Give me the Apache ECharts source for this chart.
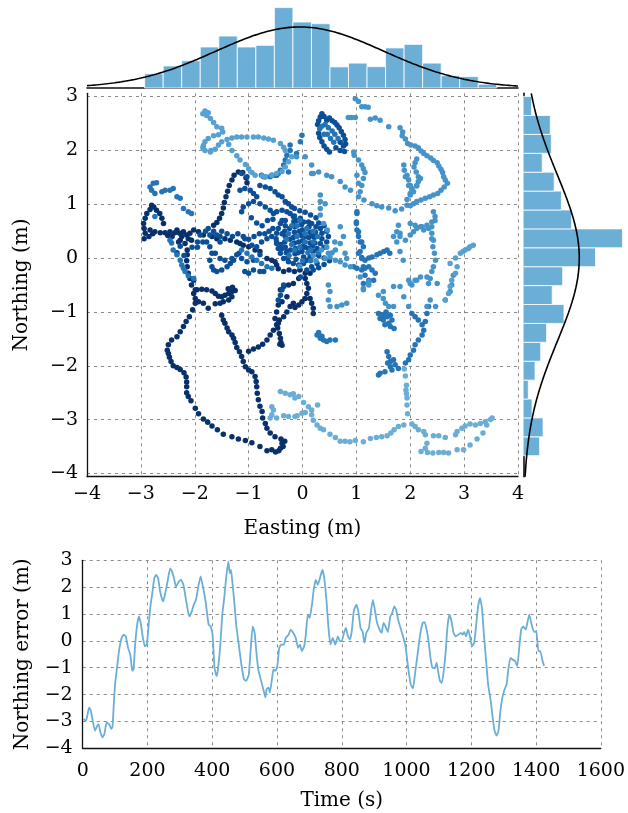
<!DOCTYPE html>
<html><head><meta charset="utf-8">
<script src="https://cdn.jsdelivr.net/npm/echarts@6/dist/echarts.min.js"></script>
<style>html,body{margin:0;padding:0;background:#fff}#c{width:628px;height:813px}</style>
</head><body><div id="c"></div>
<script>
// ---------------- data ----------------
const navyPts = [
[-0.44,-3.58],[-0.50,-3.60],[-0.57,-3.56],[-0.66,-3.58],[-0.79,-3.50],[-0.94,-3.43],[-1.06,-3.39],[-1.19,-3.36],[-1.31,-3.32],[-1.47,-3.27],[-1.58,-3.19],[-1.68,-3.12],[-1.76,-3.05],[-1.84,-2.99],[-1.93,-2.89],[-1.99,-2.79],[-2.07,-2.65],[-2.12,-2.57],[-2.15,-2.50],[-2.15,-2.39],[-2.15,-2.30],[-2.16,-2.21],[-2.20,-2.13],[-2.27,-2.07],[-2.33,-2.03],[-2.40,-2.00],[-2.44,-1.92],[-2.47,-1.84],[-2.49,-1.77],[-2.51,-1.71],[-2.49,-1.61],[-2.43,-1.52],[-2.33,-1.46],[-2.27,-1.37],[-2.21,-1.27],[-2.16,-1.18],[-2.10,-1.09],[-2.04,-0.96],[-1.99,-0.84],
[-0.33,-3.40],[-0.38,-3.44],[-0.36,-3.50],[-0.41,-3.53],[-0.40,-3.36],[-0.51,-3.32],[-0.60,-3.25],[-0.66,-3.16],[-0.69,-3.07],[-0.74,-2.97],[-0.75,-2.85],[-0.79,-2.75],[-0.82,-2.63],[-0.84,-2.51],[-0.85,-2.39],[-0.86,-2.29],[-0.88,-2.20],[-0.94,-2.11],[-1.00,-2.08],[-1.06,-2.02],[-1.10,-1.92],[-1.13,-1.83],[-1.17,-1.74],[-1.22,-1.66],[-1.25,-1.57],[-1.28,-1.49],[-1.31,-1.43],[-1.37,-1.37],[-1.40,-1.30],[-1.44,-1.21],[-1.47,-1.15],[-1.50,-1.06],
[-1.00,-1.73],[-0.91,-1.69],[-0.82,-1.65],[-0.74,-1.60],[-0.66,-1.52],[-0.60,-1.43],[-0.54,-1.34],[-0.48,-1.24],[-0.43,-1.15],[-0.35,-1.09],[-0.29,-1.00],[-0.23,-0.90],[-0.17,-0.84],
[-0.45,-1.21],[-0.46,-1.30],[-0.43,-1.40],[-0.41,-1.49],[-0.40,-1.57],[-0.38,-1.62],[-0.42,-1.60],
[-0.41,-0.59],[-0.35,-0.53],[-0.26,-0.50],[-0.17,-0.47],[-0.07,-0.38],[-0.29,-0.72],[-0.38,-0.81],[-0.45,-0.87],[-0.48,-1.00],[-0.51,-1.12],
[-2.02,-0.66],[-1.96,-0.59],[-1.87,-0.58],[-1.78,-0.59],[-1.68,-0.61],[-1.62,-0.66],[-1.56,-0.71],[-1.50,-0.72],[-1.44,-0.69],[-1.37,-0.66],[-1.31,-0.62],[-1.31,-0.72],[-1.37,-0.78],[-1.47,-0.81],[-1.53,-0.84],[-1.62,-0.85],[-1.75,-0.93],[-1.84,-0.84],[-1.93,-0.81],[-1.99,-0.75],[-1.30,-0.54],[-1.38,-0.57],[-1.25,-0.60],
[-2.06,-0.50],[-2.09,-0.38],[-2.12,-0.28],[-2.14,-0.16],[-2.15,-0.05],[-2.14,0.06],[-2.14,0.15],[-2.18,0.27],[-2.27,0.33],[-2.24,0.40],[-2.28,0.46],[-2.33,0.52],[-2.21,0.49],[-2.15,0.43],[-2.12,0.36],[-2.09,0.46],[-2.06,0.33],[-2.02,-0.41],[-1.99,-0.59],
[-2.94,0.36],[-2.92,0.46],[-2.94,0.55],[-2.95,0.64],[-2.92,0.74],[-2.89,0.83],[-2.83,0.90],[-2.80,0.98],[-2.76,0.95],[-2.71,0.89],[-2.65,0.83],[-2.61,0.74],[-2.58,0.64],
[-2.83,0.52],[-2.74,0.49],[-2.64,0.47],[-2.55,0.47],[-2.46,0.49],[-2.37,0.47],[-2.85,0.40],[-2.78,0.45],[-2.50,0.42],[-2.42,0.40],[-2.30,0.30],
[-1.65,0.61],[-1.59,0.66],[-1.54,0.74],[-1.50,0.83],[-1.47,0.93],[-1.45,1.03],[-1.42,1.14],[-1.39,1.24],[-1.36,1.35],[-1.31,1.45],[-1.27,1.54],[-1.19,1.60],[-1.11,1.59],[-1.05,1.49],[-1.03,1.40],
[-2.02,0.52],[-1.93,0.49],[-1.84,0.43],[-1.68,0.40],[-1.59,0.36],[-1.44,0.36],[-1.34,0.33],[-1.22,0.30],[-1.16,0.27],[-1.10,0.24],[-1.00,0.21],[-0.88,0.15],[-0.79,0.12],[-0.66,-0.01],[-0.57,-0.04],[-0.51,-0.07],[-0.48,-0.13],
[0.08,-0.47],[0.11,-0.56],[0.08,-0.66],[0.05,-0.75],[-0.01,-0.81],[-0.07,-0.87],[-0.14,-0.92],[0.14,-0.75],[0.17,-0.84],[0.20,-0.93],[0.20,-1.03],[0.05,-0.38],[0.14,-0.28],
[-0.45,-0.20],[-0.35,-0.25],[-0.25,-0.22],[-0.15,-0.25],[-0.05,-0.22],[0.05,-0.28]
];
const darkPts = [
[-2.33,0.10],[-2.27,0.22],[-2.20,0.05],[-2.05,0.20],[-1.95,0.30],[-1.90,0.43],[-1.78,0.30],[-1.72,0.43],[-1.62,0.09],[-1.53,-0.01],[-1.53,0.30],[-1.44,-0.04],[-1.31,-0.01],[-1.22,0.06],[-1.13,-0.01],[-1.03,-0.07],[-0.91,-0.04],[-0.79,0.06],[-1.07,0.36],[-0.94,0.24],[-0.85,0.21],[-0.76,0.30],[-0.66,0.36],[-0.57,0.40],[-0.48,0.30],[-0.38,0.18],[-0.29,0.12],
[-1.59,0.43],[-1.53,0.40],[-1.72,0.21],[-1.68,0.09],[-1.72,-0.04],[-1.68,-0.16],[-1.65,-0.22],[-1.59,-0.25],[-1.50,-0.22],[-1.40,-0.16],[-1.34,-0.10],[-1.28,-0.04],[-1.18,0.09],
[-1.95,0.20],[-1.85,0.30],[-1.80,0.50],[-1.75,0.55],[-1.65,0.50],[-1.50,0.50],[-1.40,0.45],[-1.30,0.40],[-1.20,0.45],[-1.10,0.40],[-1.00,0.35],[-0.90,0.40],[-0.80,0.45],[-0.70,0.45],[-0.62,0.50],[-0.55,0.55],
[-0.95,0.75],[-0.85,0.65],[-0.75,0.60],[-0.65,0.70],[-0.55,0.72],
[-0.32,0.70],[-0.32,0.60],[-0.33,0.50],[-0.32,0.40],[-0.33,0.30],[-0.32,0.20],[-0.30,0.10],[-0.28,0.00],
[-0.15,0.78],[-0.16,0.68],[-0.14,0.58],[-0.15,0.48],[-0.17,0.38],[-0.15,0.28],[-0.13,0.18],[-0.14,0.08],[-0.12,-0.02],
[-0.02,0.62],[0.00,0.52],[-0.02,0.42],[0.00,0.32],[0.01,0.22],[-0.01,0.12],[0.02,0.02],
[0.12,0.58],[0.14,0.48],[0.12,0.38],[0.14,0.28],[0.11,0.18],[0.24,0.48],[0.22,0.38],[0.23,0.28],
[-0.17,0.77],[-0.11,0.70],[-0.04,0.74],[0.02,0.67],[0.11,0.67],[0.17,0.64],[0.25,0.58],[0.33,0.55],[0.36,0.46],[0.36,0.36],[0.33,0.27],[0.27,0.18],[0.20,0.12],[0.14,0.02],[0.08,-0.04],[0.02,-0.10],[-0.07,-0.13],[-0.17,-0.10],[-0.26,-0.07],[-0.35,-0.01],[-0.41,0.09],[-0.45,0.18],[-0.48,0.27],[-0.49,0.36],[-0.48,0.46],[-0.45,0.55],[-0.41,0.64],[-0.38,0.70],
[-0.23,0.83],[-0.29,0.86],[-0.38,0.89],[-0.48,0.86],[-0.54,0.83],[-0.60,0.89],[-0.69,0.95],[-0.79,1.01],
[-0.24,0.55],[-0.23,0.35],[-0.22,0.15],[-0.06,0.50],[-0.07,0.30],[-0.08,0.10],[0.06,0.40],[0.05,0.20],[0.18,0.42],[0.18,0.22],[-0.38,0.45],[-0.40,0.25],
[-0.15,0.92],[-0.05,0.88],[0.05,0.85],[0.15,0.80],[0.25,0.75],[0.30,0.65],[0.40,0.60],[0.45,0.50],[0.48,0.40],[0.45,0.30],[0.40,0.20],[0.30,0.05],[0.40,0.00],[0.50,-0.05],
[0.20,-0.22],[0.30,-0.18],[0.40,-0.12],
[-1.13,1.57],[-1.03,1.51],[-0.76,1.54],[-0.69,1.51],[-0.57,1.54],[-0.48,1.54],[-0.79,1.35],[-0.69,1.32],[-0.60,1.29],[-0.51,1.23],[-0.45,1.17],[-0.38,1.14],[-0.32,1.05],[-0.26,1.01],[-0.20,0.95],[-1.16,1.26],[-1.07,1.29],[-0.97,1.26],[-0.91,1.20],[-0.85,1.14],[-0.91,1.05],[-1.00,1.01],[-1.10,0.95],[-1.13,0.86],
[0.17,-0.16],[0.08,-0.22],[0.27,-0.10],[-0.35,-0.50],[-0.38,-0.59],[-0.41,-0.69],[-0.45,-0.78],[-0.79,-0.25],[-0.91,-0.22],[-1.00,-0.28],[-1.07,-0.25],[-0.72,-0.25],[-0.04,-0.35],
[0.33,2.62],[0.36,2.68],[0.40,2.63],[0.45,2.56],[0.50,2.60],[0.55,2.55],[0.60,2.52],[0.64,2.47],[0.68,2.42],[0.72,2.35],[0.76,2.28],[0.79,2.20],[0.80,2.12],[0.76,2.08],[0.70,2.15],[0.30,2.55],[0.28,2.48],[0.30,2.32],[0.32,2.24],[0.36,2.16],[0.40,2.08],[0.45,2.02],[0.50,1.97],[0.62,2.05],[0.70,2.00],[0.78,1.98]
];
const midPts = [
[-2.77,1.39],[-2.71,1.40],[-2.83,1.32],[-2.80,1.26],[-2.74,1.20],[-2.61,1.23],[-2.55,1.26],[-2.46,1.26],[-2.40,1.29],[-2.33,1.14],[-2.27,1.11],[-2.21,0.92],[-2.12,0.86],[-2.06,0.83],
[-2.74,0.77],[-2.46,0.33],[-2.43,0.28],[-2.40,0.15],[-2.33,0.06],[-2.27,-0.04],[-2.24,-0.13],[-2.21,-0.19],[-2.18,-0.25],[-2.12,-0.33],[-2.02,-0.38],
[-1.13,0.15],[-1.03,0.09],[-0.94,0.02],[-0.85,-0.04],[-0.76,-0.10],[-0.66,-0.16],[-0.57,-0.19],
[-0.26,0.45],[-0.10,0.60],[0.05,0.45],[0.20,0.30],[-0.05,0.20],[-0.20,0.25],[0.10,0.10],
[-0.20,0.60],[-0.05,0.70],[0.08,0.55],[0.20,0.50],[-0.30,0.35],[-0.10,0.40],[0.05,0.30],[0.15,0.15],[-0.15,0.15],[-0.25,0.05],[0.00,-0.05],[0.15,-0.05],[0.28,0.40],[0.30,0.10],
[-0.01,2.28],[-0.04,2.16],[-0.11,1.94],[-0.23,2.00],[-0.29,1.91],[-0.32,1.82],[-0.35,1.73],[-0.41,1.63],[-0.45,1.57],[-0.51,1.54],[-0.60,1.51],[-0.72,1.51],[-0.23,2.10],[-0.26,1.60],
[0.60,2.30],[0.55,2.36],[0.48,2.42],[0.42,2.48],[0.36,2.45],[0.32,2.40],[0.40,2.30],[0.46,2.30],[0.52,2.22],[0.58,2.15],[0.66,2.22],
[1.04,0.09],[1.10,0.01],[1.16,-0.04],[1.23,0.00],[1.29,0.02],[1.38,0.06],[1.44,0.09],[1.51,0.12],[1.57,0.15],[1.62,0.09],[1.23,-0.16],[1.16,-0.19],[1.10,-0.22],[1.01,-0.19],[0.95,-0.16],[1.29,-0.22],[1.35,-0.28],[1.32,-0.41],[1.23,-0.44],[1.13,-0.47],
[1.01,0.86],[1.00,0.67],[1.04,0.49],[1.07,0.30],[1.01,0.83],[1.00,0.64],[1.01,0.52],[1.04,0.40],[1.10,0.30],[1.13,0.21],[1.07,0.12],[1.10,-0.01],[1.13,-0.16],[1.16,-0.32],[1.23,-0.41],
[1.41,-1.03],[1.50,-1.06],[1.57,-1.09],[1.63,-1.06],[1.66,-1.15],[1.60,-1.21],[1.50,-1.15],[1.44,-1.12],[1.53,-1.24],[1.63,-1.27],[1.70,-1.31],[1.45,-1.05],[1.55,-1.00],
[1.57,-1.74],[1.60,-1.83],[1.63,-1.92],[1.69,-1.89],[1.63,-2.02],[1.66,-2.08],[1.53,-2.11],[1.44,-2.14],[1.41,-2.17],[1.78,-2.05],[1.58,-1.95],[1.72,-1.98],
[0.27,-1.43],[0.33,-1.49],[0.39,-1.52],[0.45,-1.55],[0.51,-1.52],[0.61,-1.52],[0.30,-1.38],[0.36,-1.45],
[1.91,-1.95],[1.97,-1.89],[2.00,-1.80],[2.06,-1.71],[2.09,-1.61],[2.15,-1.52],[2.22,-1.43],[2.25,-1.34],[2.22,-1.24],[2.15,-1.15],[2.09,-1.09],[2.03,-1.03],[2.28,-1.18],[2.31,-1.03],[2.34,-0.90]
];
const lightPts = [
[0.98,2.96],[1.04,2.91],[1.10,2.81],[1.16,2.81],[1.22,2.80],[0.85,2.61],[0.91,2.61],[0.98,2.61],[1.26,2.58],[1.35,2.60],[1.44,2.56],[1.60,2.44],
[1.81,2.42],[1.86,2.34],[1.85,2.27],[1.91,2.21],[1.95,2.13],[2.01,2.10],[2.09,2.08],[2.15,2.05],[2.20,1.99],[2.25,1.94],[2.31,1.90],[2.38,1.86],[2.43,1.81],[2.50,1.77],[2.53,1.71],[2.57,1.65],[2.60,1.59],[2.62,1.51],[2.65,1.45],[2.69,1.39],[2.63,1.32],[2.57,1.26],[2.51,1.20],[2.43,1.17],[2.36,1.14],[2.28,1.11],[2.20,1.08],[2.12,1.05],[2.06,1.01],[2.00,0.97],
[1.88,1.73],[1.89,1.63],[1.94,1.54],[1.97,1.45],[2.00,1.35],[2.03,1.28],[2.07,1.69],[2.09,1.77],[2.12,1.84],[2.11,1.60],[2.15,1.51],[2.15,1.42],[2.12,1.34],[2.06,1.23],[2.00,1.17],[1.94,1.09],
[1.14,1.08],[1.29,1.01],[1.38,0.97],[1.47,0.95],[1.60,0.93],[1.72,0.88],[1.84,0.91],[1.94,0.98],
[0.95,1.97],[0.96,1.91],[1.04,1.82],[1.10,1.73],[1.13,1.66],[1.16,1.59],[1.13,1.48],[1.10,1.35],[1.07,1.23],[1.04,1.14],[1.01,1.54],[1.04,1.39],
[0.17,1.57],[0.30,1.60],[0.45,1.54],[0.54,1.51],[0.70,1.42],[0.79,1.32],[0.89,1.26],[0.33,1.17],[0.33,1.05],[0.33,0.92],[0.42,1.01],[0.33,0.80],[0.39,0.64],[0.46,0.52],[0.70,0.58],[0.76,0.40],[0.70,0.27],[0.61,0.15],[0.48,0.09],[0.79,0.09],[0.82,-0.01],
[-0.11,1.88],[0.05,1.88],[0.17,1.73],[0.20,1.57],
[0.20,0.05],[0.35,0.15],[0.25,-0.05],[0.45,0.20],[-0.05,-0.15],[0.55,0.10],[0.60,0.30],
[1.69,0.40],[1.81,0.46],[1.75,0.30],[1.81,0.12],[1.87,-0.04],[1.78,0.61],[2.00,0.64],[2.09,0.61],[2.19,0.58],[2.25,0.52],[2.34,0.55],[2.40,0.58],[2.46,0.70],[2.40,0.46],[2.43,0.33],[2.42,0.21],[2.45,0.09],[2.47,-0.04],[2.43,-0.16],[2.40,-0.25],[2.37,-0.38],[2.34,-0.47],[2.12,-0.41],[2.03,-0.50],[1.88,-0.72],
[1.75,0.49],[1.81,0.40],[1.91,0.33],[2.00,0.43],[2.06,0.49],[2.12,0.55],[2.22,0.58],[2.31,0.61],[2.40,0.67],[2.46,0.77],[2.43,0.86],[2.40,0.36],
[1.91,1.51],[1.97,1.35],[2.03,1.29],[2.12,1.35],[2.19,1.48],[2.00,1.20],
[1.41,-0.69],[1.50,-0.62],[1.69,-0.53],[1.81,-0.53],[1.97,-0.41],[2.09,-0.41],[2.19,-0.35],[1.13,-0.59],[1.23,-0.50],[1.50,-0.75],[1.54,-0.84],[1.60,-0.90],[1.69,-0.90],[1.97,-0.90],[2.31,-0.90],[2.47,-0.90],
[1.07,-0.35],[1.23,-0.44],[1.13,-0.56],[2.00,-0.47],[2.31,-0.35],[2.50,-0.47],[2.37,-0.78],[2.65,-0.78],[2.74,-0.62],[2.77,-0.50],[2.80,-0.32],
[0.48,-0.50],[0.51,-0.62],[0.48,-0.78],[0.51,-0.90],[0.64,-0.90],[0.73,-0.87],[0.82,-0.84],
[0.42,-0.01],[0.51,0.02],[0.61,-0.04],[0.70,-0.07],[0.79,-0.13],[0.89,-0.16]
];
const skyPts = [
[-1.81,2.73],[-1.78,2.65],[-1.71,2.59],[-1.65,2.52],[-1.59,2.44],[-1.50,2.41],[-1.48,2.34],[-1.56,2.29],[-1.65,2.27],[-1.75,2.22],[-1.81,2.16],[-1.84,2.09],[-1.81,2.00],[-1.71,1.97],[-1.62,2.02],[-1.56,2.10],[-1.50,2.16],[-1.40,2.20],[-1.31,2.23],[-1.22,2.25],[-1.13,2.25],[-1.03,2.25],[-0.91,2.25],[-0.82,2.25],[-0.72,2.23],[-0.63,2.21],[-0.54,2.19],[-0.41,2.13],[-0.35,2.06],[-0.32,2.00],
[-1.37,2.11],[-1.31,2.00],[-1.22,1.90],[-1.16,1.82],[-1.06,1.74],[-1.00,1.66],[-0.94,1.59],[-0.88,1.54],[-0.75,1.53],[-0.69,1.51],[-0.57,1.54],[-0.48,1.57],[-0.38,1.61],[-0.32,1.69],[-0.26,1.79],[-0.20,1.88],
[-1.75,2.70],[-1.85,2.68],[-1.70,2.00],[-1.85,2.05],
[2.74,-0.10],[2.84,0.00],[2.93,0.09],[3.02,0.15],[3.11,0.21],[3.17,0.24],[3.08,0.18],[2.98,0.12],[2.87,-0.16],[2.84,-0.28],[2.77,-0.41],[2.74,-0.53],[2.71,-0.66],[2.65,-0.78]
];
const palePts = [
[-0.41,-2.48],[-0.32,-2.51],[-0.23,-2.54],[-0.14,-2.60],[-0.57,-2.76],[-0.54,-2.82],[-0.57,-2.91],[-0.60,-2.97],[-0.48,-2.97],[-0.35,-2.93],[-0.26,-2.94],[-0.14,-2.94],[-0.17,-2.52],[-0.07,-2.57],[0.02,-2.68],[0.11,-2.76],[0.28,-2.73],[0.17,-2.82],[0.17,-2.91],[0.05,-2.87],[-0.01,-2.88],[-0.10,-2.93],[0.20,-3.01],[0.27,-3.10],[0.33,-3.16],[0.39,-3.19],[0.51,-3.27],[0.61,-3.33],[0.70,-3.40],[0.79,-3.40],[0.88,-3.41],[0.98,-3.39],[1.13,-3.41],[1.26,-3.35],[1.37,-3.33],[1.47,-3.32],[1.57,-3.30],[1.64,-3.25],[1.70,-3.19],[1.78,-3.13],[1.88,-3.10],[1.95,-2.89],[1.94,-2.73],[1.94,-2.60],[1.93,-2.52],[1.92,-2.45],[1.93,-2.36],[1.91,-2.19],[1.89,-2.06],
[2.03,-3.08],[2.09,-3.13],[2.15,-3.19],[2.25,-3.22],[2.28,-3.28],[2.43,-3.30],[2.53,-3.30],[2.65,-3.33],[2.84,-3.28],[2.87,-3.22],[2.96,-3.16],[3.02,-3.12],[3.11,-3.08],[3.21,-3.10],[3.30,-3.07],[3.39,-3.04],[3.49,-3.00],[3.52,-2.97],[3.42,-3.10],[3.35,-3.25],[3.24,-3.36],[3.11,-3.47],[2.99,-3.56],[2.87,-3.56],[2.71,-3.62],[2.62,-3.61],[2.53,-3.61],[2.42,-3.62],[2.32,-3.61],[2.20,-3.59],[2.28,-3.53],[2.31,-3.44]
];

// marginal histograms (normalised densities)
const eastBinStart = -2.93, eastBinWidth = 0.344;
const eastDensity = [0.060,0.093,0.115,0.173,0.219,0.173,0.180,0.339,0.278,0.271,0.089,0.105,0.090,0.169,0.184,0.105,0.052,0.048,0.016];
const northBinStart = -3.67, northBinWidth = 0.351;
const northDensity = [0.075,0.091,0.040,0.023,0.054,0.080,0.107,0.187,0.133,0.181,0.332,0.456,0.222,0.175,0.142,0.087,0.129,0.124,0.038];
const eastMu = -0.05, eastSigma = 1.55;
const northMu = 0.0, northSigma = 1.55;

// northing error over time
const timeSec = [2,10,14,20,25,31,38,45,49,55,61,67,74,82,88,92,96,100,106,112,120,127,133,140,147,153,157,162,168,174,180,186,192,198,202,209,215,221,227,233,239,248,254,262,270,276,282,288,297,304,311,319,329,337,343,350,356,364,370,378,384,389,395,401,407,413,417,425,431,437,444,450,454,458,462,468,474,482,490,498,505,513,519,525,531,537,543,551,559,564,568,574,578,585,589,595,601,607,613,621,627,636,642,650,658,665,671,677,684,689,695,701,708,714,720,726,734,740,746,753,759,765,772,780,788,794,800,807,813,819,825,831,837,845,851,858,864,870,876,884,890,896,903,909,917,923,929,935,942,950,956,962,968,974,980,989,997,1005,1013,1020,1026,1034,1042,1050,1056,1062,1068,1074,1080,1087,1093,1097,1103,1109,1115,1121,1127,1133,1139,1145,1152,1160,1168,1174,1178,1184,1190,1196,1202,1209,1215,1221,1227,1233,1239,1245,1252,1260,1266,1272,1278,1284,1290,1297,1303,1309,1315,1321,1327,1335,1342,1348,1354,1360,1368,1374,1379,1383,1389,1395,1401,1407,1413,1419,1425];
const northErr = [-2.91,-2.98,-2.79,-2.48,-2.60,-2.98,-3.35,-3.16,-3.10,-3.41,-3.59,-3.47,-3.04,-3.10,-3.28,-3.20,-2.36,-1.62,-1.00,-0.38,0.11,0.23,0.17,-0.26,-0.51,-1.12,-1.06,-0.14,0.60,0.91,0.60,0.11,-0.20,-0.14,0.36,1.28,1.78,2.33,2.46,2.33,1.84,1.47,1.72,2.21,2.70,2.58,2.33,2.02,2.21,2.27,2.09,1.53,0.91,1.10,1.35,1.53,1.96,2.40,2.09,1.59,1.04,0.60,0.54,0.23,-1.00,-1.31,-1.12,-0.14,0.98,1.59,2.46,2.95,2.52,2.64,2.21,1.47,0.60,-0.14,-0.88,-1.43,-1.49,-1.25,-0.26,0.54,0.30,-0.51,-1.12,-1.49,-1.86,-2.11,-1.80,-1.74,-1.93,-1.37,-1.06,-1.12,-0.94,-0.26,-0.14,-0.14,0.11,0.23,0.42,0.30,0.11,-0.26,-0.14,-0.38,-0.20,0.23,0.98,0.85,1.35,1.96,2.27,2.09,2.40,2.64,2.33,1.47,0.48,-0.14,0.11,-0.14,0.17,-0.01,-0.01,0.30,0.48,0.17,0.05,0.36,1.10,1.35,1.10,0.48,0.36,-0.07,0.30,0.48,1.10,1.53,1.10,0.67,0.42,0.30,0.67,0.54,0.33,0.91,1.04,1.28,1.16,0.79,0.54,0.17,-0.20,-1.00,-1.62,-1.77,-1.25,-0.51,0.23,0.67,0.70,0.42,-0.01,-0.63,-1.00,-1.02,-0.81,-1.10,-1.49,-1.56,-1.12,-0.38,0.60,0.98,0.73,0.30,0.17,0.23,0.30,0.23,0.33,0.17,0.42,0.17,-0.20,-0.07,0.60,1.28,1.59,1.22,0.23,-0.63,-1.62,-2.23,-2.85,-3.35,-3.53,-3.35,-2.60,-2.05,-1.80,-1.62,-1.00,-0.63,-0.69,-0.75,-0.94,-0.26,0.42,0.54,0.42,0.73,0.98,0.79,0.48,0.33,0.36,-0.38,-0.38,-0.69,-0.94];

const yTicks = [-4,-3,-2,-1,0,1,2,3];

// ---------------- chart ----------------
const FONT = 'DejaVu Serif';
const BAR = '#6baed6';
const minus = v => String(v).replace('-', '\u2212');
const gridLine = {show:true, lineStyle:{color:'#8a8a8a', width:1, type:[3,4]}};
const axLine = {show:true, onZero:false, lineStyle:{color:'#111', width:1.3}};
const lbl = (m) => ({color:'#000', fontFamily:FONT, fontSize:19, margin:m, formatter:minus});
const nameStyle = {fontFamily:FONT, fontSize:20, color:'#000'};

function gauss(v, mu, s){ return Math.exp(-0.5*((v-mu)/s)**2)/(s*Math.sqrt(2*Math.PI)); }
const curveX = [], curveY = [];
for (let v=-4; v<=4.0001; v+=0.04){ curveX.push([v, gauss(v,eastMu,eastSigma)]); }
for (let v=-4.06; v<=3.0601; v+=0.04){ curveY.push([gauss(v,northMu,northSigma), v]); }

const eastBins = eastDensity.map((d,i)=>[eastBinStart+i*eastBinWidth, eastBinStart+(i+1)*eastBinWidth, d]);
const northBins = northDensity.map((d,i)=>[northBinStart+i*northBinWidth, northBinStart+(i+1)*northBinWidth, d]);
const errData = timeSec.map((t,i)=>[t, northErr[i]]);

const chart = echarts.init(document.getElementById('c'), null, {renderer:'canvas'});
const sc = (data, color) => ({type:'scatter', xAxisIndex:0, yAxisIndex:0, data, symbolSize:5.5,
  itemStyle:{color, opacity:1}, silent:true, z:3});

chart.setOption({
  animation:false,
  backgroundColor:'#fff',
  grid:[
    {left:87, top:93.3, width:431, height:383.4},
    {left:87, top:5, width:431, height:83},
    {left:523.3, top:93.3, width:102, height:383.4},
    {left:82.7, top:560.3, width:521.6, height:188}
  ],
  xAxis:[
    {gridIndex:0, type:'value', min:-4, max:4, interval:1,
     axisLine:axLine, axisTick:{show:false}, splitLine:gridLine, axisLabel:lbl(8),
     name:'Easting (m)', nameLocation:'middle', nameGap:42, nameTextStyle:nameStyle},
    {gridIndex:1, type:'value', min:-4, max:4, axisLine:{show:true, onZero:false, lineStyle:{color:'#111', width:1.6}},
     axisTick:{show:false}, axisLabel:{show:false}, splitLine:{show:false}},
    {gridIndex:2, type:'value', min:0, max:0.469, axisLine:{show:false},
     axisTick:{show:false}, axisLabel:{show:false}, splitLine:{show:false}},
    {gridIndex:3, type:'value', min:0, max:1600, interval:200,
     axisLine:axLine, axisTick:{show:false}, splitLine:gridLine, axisLabel:lbl(13),
     name:'Time (s)', nameLocation:'middle', nameGap:42, nameTextStyle:nameStyle}
  ],
  yAxis:[
    {gridIndex:0, type:'value', min:-4.06, max:3.06,
     axisLine:axLine, axisTick:{show:false, customValues:yTicks},
     splitLine:gridLine, axisLabel:Object.assign(lbl(9), {customValues:yTicks}),
     name:'Northing (m)', nameLocation:'middle', nameGap:55, nameTextStyle:nameStyle},
    {gridIndex:1, type:'value', min:0, max:0.350, axisLine:{show:false},
     axisTick:{show:false}, axisLabel:{show:false}, splitLine:{show:false}},
    {gridIndex:2, type:'value', min:-4.06, max:3.06, axisLine:{show:true, onZero:false, lineStyle:{color:'#111', width:1.6}},
     axisTick:{show:false}, axisLabel:{show:false}, splitLine:{show:false}},
    {gridIndex:3, type:'value', min:-4, max:3, interval:1,
     axisLine:axLine, axisTick:{show:false}, splitLine:gridLine, axisLabel:lbl(10),
     name:'Northing error (m)', nameLocation:'middle', nameGap:50, nameTextStyle:nameStyle}
  ],
  series:[
    sc(navyPts, '#08306b'),
    sc(darkPts, '#0b4f97'),
    sc(midPts, '#2474b6'),
    sc(lightPts, '#4594c9'),
    sc(skyPts, '#56a1d1'),
    sc(palePts, '#6aadd6'),
    {type:'custom', xAxisIndex:1, yAxisIndex:1, data:eastBins, silent:true,
     encode:{x:[0,1], y:2},
     renderItem:(p, api)=>{
       const a = api.coord([api.value(0), api.value(2)]);
       const b = api.coord([api.value(1), 0]);
       return {type:'rect', shape:{x:a[0], y:a[1], width:b[0]-a[0], height:b[1]-a[1]},
               style:{fill:BAR, stroke:'#fff', lineWidth:0.8}};
     }},
    {type:'line', xAxisIndex:1, yAxisIndex:1, data:curveX, showSymbol:false, silent:true,
     lineStyle:{color:'#000', width:1.6}, z:5},
    {type:'custom', xAxisIndex:2, yAxisIndex:2, data:northBins, silent:true,
     encode:{y:[0,1], x:2},
     renderItem:(p, api)=>{
       const a = api.coord([0, api.value(1)]);
       const b = api.coord([api.value(2), api.value(0)]);
       return {type:'rect', shape:{x:a[0], y:a[1], width:b[0]-a[0], height:b[1]-a[1]},
               style:{fill:BAR, stroke:'#fff', lineWidth:0.8}};
     }},
    {type:'line', xAxisIndex:2, yAxisIndex:2, data:curveY, showSymbol:false, silent:true,
     lineStyle:{color:'#000', width:1.6}, z:5},
    {type:'line', xAxisIndex:3, yAxisIndex:3, data:errData, showSymbol:false, silent:true,
     smooth:0.15, lineStyle:{color:BAR, width:1.8}}
  ]
});
</script></body></html>
